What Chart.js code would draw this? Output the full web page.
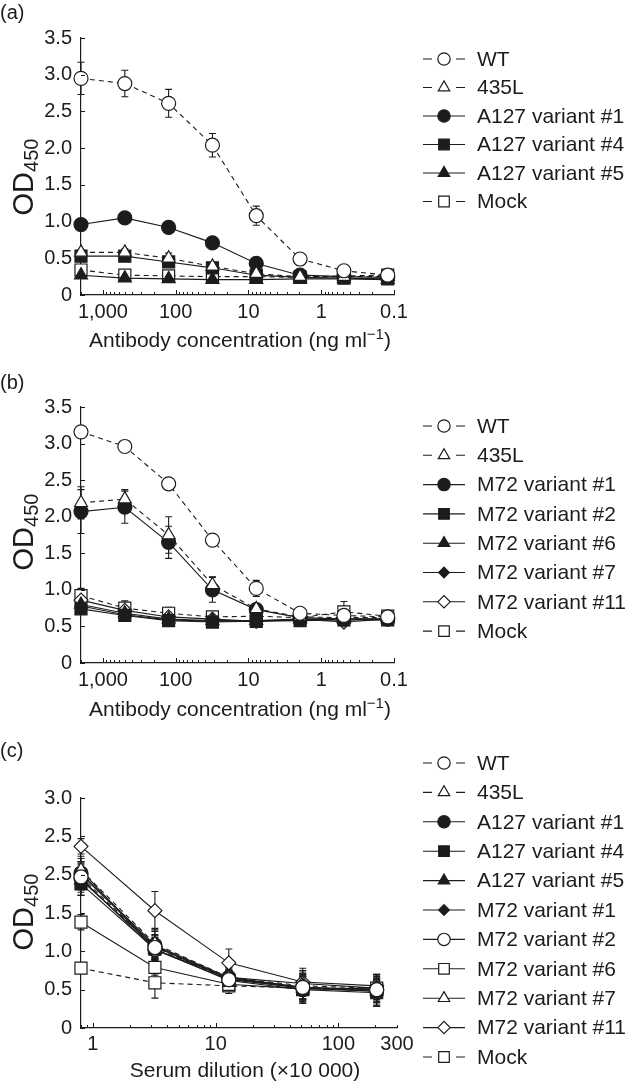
<!DOCTYPE html>
<html><head><meta charset="utf-8">
<script src="https://cdn.jsdelivr.net/npm/chart.js@4/dist/chart.umd.min.js"></script>
<style>
html,body{margin:0;padding:0;background:#fff;width:630px;height:1081px;overflow:hidden}
.p{position:absolute;left:0;width:630px}
canvas{display:block}
</style></head><body>
<div class="p" style="top:0;height:365px"><canvas id="ca" width="630" height="365"></canvas></div>
<div class="p" style="top:345px;height:382px"><canvas id="cb" width="630" height="382"></canvas></div>
<div class="p" style="top:720px;height:361px"><canvas id="cc" width="630" height="361"></canvas></div>
<script>
// ---------------- DATA ----------------
// x values (antibody concentration, ng/ml; serum dilution x10 000)
const concAB = [2000, 500, 125, 31.25, 7.8125, 1.953, 0.488, 0.122];
const dilC = [0.8, 3.2, 12.8, 51.2, 204.8];

// axis ticks
const abXTicks = [1000, 100, 10, 1, 0.1];
const abXTickLabels = ['1,000', '100', '10', '1', '0.1'];
const cXTicks = [1, 10, 100, 300];
const cXTickLabels = ['1', '10', '100', '300'];
const abYTicks = [0, 0.5, 1, 1.5, 2, 2.5, 3, 3.5];
const abYTickLabels = ['0', '0.5', '1.0', '1.5', '2.0', '2.5', '3.0', '3.5'];
const cYTicks = [0, 0.5, 1, 1.5, 2, 2.5, 3];
const cYTickLabels = ['0', '0.5', '1.0', '1.5', '2.5', '2.5', '3.0'];

// titles
const abXTitle = ['Antibody concentration (ng ml', '\u22121', ')'];
const cXTitle = ['Serum dilution (\u00d710 000)', '', ''];
const yTitle = ['OD', '450'];
const panelNames = ['(a)', '(b)', '(c)'];

// Panel (a)
const aLabels = ['WT', '435L', 'A127 variant #1', 'A127 variant #4', 'A127 variant #5', 'Mock'];
const aWT      = [2.95, 2.88, 2.61, 2.04, 1.08, 0.49, 0.33, 0.27];
const aWTErr   = [0.22, 0.18, 0.19, 0.16, 0.13, 0.06, 0.03, 0.02];
const a435L    = [0.58, 0.58, 0.50, 0.39, 0.29, 0.25, 0.25, 0.25];
const a435LErr = [0.04, 0.05, 0.07, 0.04, 0.02, 0.02, 0.02, 0.02];
const aA1      = [0.96, 1.05, 0.92, 0.71, 0.43, 0.27, 0.25, 0.24];
const aA1Err   = [0.04, 0.03, 0.05, 0.03, 0.03, 0.02, 0.02, 0.02];
const aA4      = [0.53, 0.53, 0.45, 0.37, 0.27, 0.24, 0.23, 0.22];
const aA4Err   = [0.03, 0.03, 0.03, 0.03, 0.02, 0.02, 0.02, 0.02];
const aA5      = [0.27, 0.23, 0.22, 0.21, 0.21, 0.22, 0.22, 0.21];
const aA5Err   = [0.02, 0.02, 0.02, 0.02, 0.02, 0.02, 0.02, 0.02];
const aMock    = [0.34, 0.27, 0.26, 0.25, 0.25, 0.24, 0.26, 0.27];
const aMockErr = [0.03, 0.02, 0.02, 0.02, 0.02, 0.02, 0.02, 0.02];

// Panel (b)
const bLabels = ['WT', '435L', 'M72 variant #1', 'M72 variant #2', 'M72 variant #6', 'M72 variant #7', 'M72 variant #11', 'Mock'];
const bWT      = [3.16, 2.96, 2.45, 1.68, 1.02, 0.68, 0.65, 0.63];
const bWTErr   = [0.03, 0.08, 0.04, 0.07, 0.11, 0.03, 0.02, 0.02];
const b435L    = [2.19, 2.24, 1.75, 1.07, 0.74, 0.63, 0.62, 0.62];
const b435LErr = [0.22, 0.13, 0.25, 0.11, 0.04, 0.02, 0.02, 0.02];
const bM1      = [2.07, 2.13, 1.65, 1.00, 0.73, 0.62, 0.60, 0.60];
const bM1Err   = [0.30, 0.22, 0.22, 0.17, 0.03, 0.02, 0.02, 0.02];
const bM2      = [0.74, 0.65, 0.58, 0.56, 0.57, 0.58, 0.59, 0.59];
const bM2Err   = [0.03, 0.02, 0.02, 0.02, 0.02, 0.02, 0.02, 0.02];
const bM6      = [0.80, 0.68, 0.60, 0.58, 0.58, 0.60, 0.60, 0.60];
const bM6Err   = [0.04, 0.02, 0.02, 0.02, 0.02, 0.02, 0.02, 0.02];
const bM7      = [0.78, 0.66, 0.59, 0.57, 0.57, 0.59, 0.60, 0.60];
const bM7Err   = [0.03, 0.02, 0.02, 0.02, 0.02, 0.02, 0.02, 0.02];
const bM11     = [0.86, 0.72, 0.63, 0.60, 0.57, 0.60, 0.56, 0.60];
const bM11Err  = [0.05, 0.04, 0.03, 0.02, 0.02, 0.02, 0.02, 0.02];
const bMock    = [0.92, 0.75, 0.68, 0.63, 0.64, 0.62, 0.70, 0.64];
const bMockErr = [0.10, 0.10, 0.08, 0.04, 0.04, 0.02, 0.14, 0.03];

// Panel (c)
const cLabels = ['WT', '435L', 'A127 variant #1', 'A127 variant #4', 'A127 variant #5', 'M72 variant #1', 'M72 variant #2', 'M72 variant #6', 'M72 variant #7', 'M72 variant #11', 'Mock'];
const cWT      = [1.97, 1.05, 0.63, 0.53, 0.50];
const cWTErr   = [0.20, 0.15, 0.12, 0.18, 0.20];
const c435L    = [2.06, 1.10, 0.66, 0.55, 0.52];
const c435LErr = [0.18, 0.20, 0.10, 0.20, 0.18];
const cA1      = [2.02, 1.08, 0.66, 0.53, 0.49];
const cA1Err   = [0.15, 0.18, 0.12, 0.20, 0.20];
const cA4      = [1.88, 1.03, 0.62, 0.50, 0.46];
const cA4Err   = [0.15, 0.15, 0.12, 0.18, 0.18];
const cA5      = [1.93, 1.06, 0.64, 0.52, 0.48];
const cA5Err   = [0.20, 0.15, 0.15, 0.15, 0.15];
const cM1      = [2.00, 1.07, 0.65, 0.52, 0.48];
const cM1Err   = [0.15, 0.15, 0.10, 0.15, 0.15];
const cM2      = [1.95, 1.02, 0.63, 0.53, 0.50];
const cM2Err   = [0.15, 0.12, 0.10, 0.15, 0.15];
const cM6      = [1.38, 0.79, 0.57, 0.51, 0.52];
const cM6Err   = [0.10, 0.10, 0.08, 0.10, 0.10];
const cM7      = [2.06, 1.02, 0.66, 0.58, 0.52];
const cM7Err   = [0.15, 0.15, 0.10, 0.20, 0.15];
const cM11     = [2.37, 1.53, 0.85, 0.60, 0.55];
const cM11Err  = [0.10, 0.25, 0.18, 0.10, 0.10];
const cMock    = [0.78, 0.59, 0.55, 0.52, 0.50];
const cMockErr = [0.05, 0.20, 0.10, 0.10, 0.10];

// ---------------- STYLES ----------------
const INK = '#1c1c1c';
const FONT = '"Liberation Sans", Arial, sans-serif';
const S = {
  oCircD: {m: 'circle', r: 7, f: false, d: true},
  oTriD:  {m: 'triangle', r: 7.5, f: false, d: true},
  fCirc:  {m: 'circle', r: 7, f: true, d: false},
  fRect:  {m: 'rect', r: 8.5, f: true, d: false},
  fTri:   {m: 'triangle', r: 7.5, f: true, d: false},
  fDia:   {m: 'rectRot', r: 6, f: true, d: false},
  oCirc:  {m: 'circle', r: 7, f: false, d: false},
  oRect:  {m: 'rect', r: 8.5, f: false, d: false},
  oTri:   {m: 'triangle', r: 7.5, f: false, d: false},
  oDia:   {m: 'rectRot', r: 7, f: false, d: false},
  oRectD: {m: 'rect', r: 8.5, f: false, d: true}
};

function makeDatasets(xs, labels, series, errs, styles) {
  return labels.map((lab, i) => {
    const st = styles[i];
    return {
      label: lab,
      data: xs.map((x, j) => ({x: x, y: series[i][j]})),
      errors: errs[i],
      legendStyle: st,
      borderColor: INK,
      borderWidth: 1.1,
      borderDash: st.d ? [5, 4] : [],
      pointStyle: st.m,
      pointRadius: st.r,
      pointHoverRadius: st.r,
      pointBorderColor: INK,
      pointBorderWidth: 1.2,
      pointBackgroundColor: st.f ? INK : '#ffffff',
      clip: false,
      tension: 0,
      fill: false
    };
  });
}

function markerPath(ctx, st, x, y, r) {
  ctx.beginPath();
  if (st.m === 'circle') {
    ctx.arc(x, y, r, 0, Math.PI * 2);
  } else if (st.m === 'rect') {
    const s = Math.SQRT1_2 * r;
    ctx.rect(x - s, y - s, 2 * s, 2 * s);
  } else if (st.m === 'triangle') {
    let a = 0;
    ctx.moveTo(x + Math.sin(a) * r, y - Math.cos(a) * r);
    a += 2 * Math.PI / 3;
    ctx.lineTo(x + Math.sin(a) * r, y - Math.cos(a) * r);
    a += 2 * Math.PI / 3;
    ctx.lineTo(x + Math.sin(a) * r, y - Math.cos(a) * r);
    ctx.closePath();
  } else if (st.m === 'rectRot') {
    ctx.moveTo(x - r, y); ctx.lineTo(x, y - r); ctx.lineTo(x + r, y); ctx.lineTo(x, y + r);
    ctx.closePath();
  }
}

function makeDecor(cfg) {
  return {
    id: 'decor',
    beforeDatasetsDraw(chart) {
      const ctx = chart.ctx, xs = chart.scales.x, ys = chart.scales.y;
      ctx.save();
      ctx.strokeStyle = INK; ctx.lineWidth = 1.1; ctx.setLineDash([]);
      chart.data.datasets.forEach(ds => {
        ds.data.forEach((p, j) => {
          const e = ds.errors[j];
          if (!e) return;
          const px = xs.getPixelForValue(p.x);
          const y1 = ys.getPixelForValue(p.y + e);
          const y2 = ys.getPixelForValue(Math.max(p.y - e, 0));
          ctx.beginPath();
          ctx.moveTo(px, y1); ctx.lineTo(px, y2);
          ctx.moveTo(px - 3.5, y1); ctx.lineTo(px + 3.5, y1);
          ctx.moveTo(px - 3.5, y2); ctx.lineTo(px + 3.5, y2);
          ctx.stroke();
        });
      });
      ctx.restore();
    },
    afterDraw(chart) {
      const ctx = chart.ctx, xs = chart.scales.x, ys = chart.scales.y;
      const area = chart.chartArea;
      ctx.save();
      ctx.strokeStyle = INK; ctx.lineWidth = 1; ctx.setLineDash([]);
      // inward x ticks (major + minor), from the log scale
      const lo = Math.min(xs.min, xs.max), hi = Math.max(xs.min, xs.max);
      ctx.beginPath();
      for (let n = -2; n <= 3; n++) {
        for (let k = 1; k <= 9; k++) {
          const v = k * Math.pow(10, n);
          if (v < lo * 0.999 || v > hi * 1.001) continue;
          const px = Math.round(xs.getPixelForValue(v)) + 0.5;
          const len = k === 1 ? 5 : 3;
          ctx.moveTo(px, area.bottom); ctx.lineTo(px, area.bottom - len);
        }
      }
      // inward y ticks
      cfg.yTicks.forEach(v => {
        const py = Math.round(ys.getPixelForValue(v)) + 0.5;
        ctx.moveTo(area.left, py); ctx.lineTo(area.left + 4, py);
      });
      ctx.stroke();

      ctx.fillStyle = INK;
      // x title with optional superscript
      const parts = cfg.xTitle;
      ctx.textBaseline = 'alphabetic';
      ctx.font = '21px ' + FONT;
      const w0 = ctx.measureText(parts[0]).width;
      const w2 = ctx.measureText(parts[2]).width;
      ctx.font = '15px ' + FONT;
      const w1 = ctx.measureText(parts[1]).width;
      let sx = cfg.xTitleX - (w0 + w1 + w2) / 2;
      const by = cfg.xTitleY + 7.5;
      ctx.textAlign = 'left';
      ctx.font = '21px ' + FONT;
      ctx.fillText(parts[0], sx, by);
      ctx.font = '15px ' + FONT;
      ctx.fillText(parts[1], sx + w0, by - 8);
      ctx.font = '21px ' + FONT;
      ctx.fillText(parts[2], sx + w0 + w1, by);

      // y title OD450 rotated
      ctx.save();
      ctx.translate(cfg.yTitleX, cfg.yTitleY);
      ctx.rotate(-Math.PI / 2);
      ctx.font = '29px ' + FONT;
      const wOD = ctx.measureText(yTitle[0]).width;
      ctx.font = '20px ' + FONT;
      const wSub = ctx.measureText(yTitle[1]).width;
      const start = -(wOD + wSub) / 2;
      ctx.font = '29px ' + FONT;
      ctx.fillText(yTitle[0], start, 0);
      ctx.font = '20px ' + FONT;
      ctx.fillText(yTitle[1], start + wOD, 5);
      ctx.restore();

      // panel label
      ctx.font = '20px ' + FONT;
      ctx.textBaseline = 'middle';
      ctx.textAlign = 'left';
      ctx.fillText(cfg.panel, 0, cfg.panelY);

      // legend
      chart.data.datasets.forEach((ds, i) => {
        const st = ds.legendStyle;
        const y = cfg.legY + i * cfg.legStep;
        ctx.strokeStyle = INK; ctx.lineWidth = 1.1; ctx.setLineDash([]);
        ctx.beginPath();
        if (st.d) {
          ctx.moveTo(423, y); ctx.lineTo(432, y);
          ctx.moveTo(456, y); ctx.lineTo(465, y);
        } else {
          ctx.moveTo(423, y); ctx.lineTo(465, y);
        }
        ctx.stroke();
        markerPath(ctx, st, 444, y, st.r * 0.88);
        ctx.fillStyle = st.f ? INK : '#fff';
        ctx.fill();
        ctx.lineWidth = 1.2;
        ctx.stroke();
        ctx.fillStyle = INK;
        ctx.font = '21px ' + FONT;
        ctx.textBaseline = 'middle';
        ctx.fillText(ds.label, 477, y + 1);
      });
      ctx.restore();
    }
  };
}

function build(canvasId, cfg) {
  const H = cfg.H;
  new Chart(document.getElementById(canvasId), {
    type: 'line',
    data: {datasets: cfg.datasets},
    options: {
      responsive: false,
      animation: false,
      events: [],
      layout: {padding: {left: 0, top: cfg.T, right: 630 - cfg.R, bottom: 0}},
      plugins: {legend: {display: false}, tooltip: {enabled: false}, title: {display: false}},
      scales: {
        x: {
          type: 'logarithmic',
          reverse: cfg.reverse,
          min: cfg.xMin, max: cfg.xMax,
          afterBuildTicks: s => { s.ticks = cfg.xTicks.map(v => ({value: v})); },
          afterFit: s => { s.height = H - cfg.B; },
          grid: {display: false, drawTicks: false},
          border: {display: true, color: INK, width: 1.2},
          ticks: {
            autoSkip: false, maxRotation: 0, padding: cfg.xPad,
            color: INK, font: {family: FONT, size: 20},
            callback: (v, i) => cfg.xTickLabels[i]
          }
        },
        y: {
          type: 'linear',
          min: 0, max: cfg.yMax,
          afterBuildTicks: s => { s.ticks = cfg.yTicks.map(v => ({value: v})); },
          afterFit: s => { s.width = 81; },
          grid: {display: false, drawTicks: false},
          border: {display: true, color: INK, width: 1.2},
          ticks: {
            padding: 9, color: INK, font: {family: FONT, size: 20},
            callback: (v, i) => cfg.yTickLabels[i]
          }
        }
      }
    },
    plugins: [makeDecor(cfg)]
  });
}

build('ca', {
  H: 365, T: 38, B: 295, R: 394, reverse: true, xMin: 0.1, xMax: 2000, xPad: 5,
  xTicks: abXTicks, xTickLabels: abXTickLabels, yTicks: abYTicks, yTickLabels: abYTickLabels, yMax: 3.5,
  xTitle: abXTitle, xTitleX: 240, xTitleY: 339, yTitleX: 33, yTitleY: 177,
  panel: panelNames[0], panelY: 13, legY: 59, legStep: 28.5,
  datasets: makeDatasets(concAB, aLabels,
    [aWT, a435L, aA1, aA4, aA5, aMock],
    [aWTErr, a435LErr, aA1Err, aA4Err, aA5Err, aMockErr],
    [S.oCircD, S.oTriD, S.fCirc, S.fRect, S.fTri, S.oRectD])
});

build('cb', {
  H: 382, T: 62, B: 318, R: 394, reverse: true, xMin: 0.1, xMax: 2000, xPad: 5,
  xTicks: abXTicks, xTickLabels: abXTickLabels, yTicks: abYTicks, yTickLabels: abYTickLabels, yMax: 3.5,
  xTitle: abXTitle, xTitleX: 240, xTitleY: 363, yTitleX: 33, yTitleY: 187,
  panel: panelNames[1], panelY: 38, legY: 81, legStep: 29.3,
  datasets: makeDatasets(concAB, bLabels,
    [bWT, b435L, bM1, bM2, bM6, bM7, bM11, bMock],
    [bWTErr, b435LErr, bM1Err, bM2Err, bM6Err, bM7Err, bM11Err, bMockErr],
    [S.oCircD, S.oTriD, S.fCirc, S.fRect, S.fTri, S.fDia, S.oDia, S.oRectD])
});

build('cc', {
  H: 361, T: 78, B: 308, R: 397, reverse: false, xMin: 0.8, xMax: 300, xPad: 4,
  xTicks: cXTicks, xTickLabels: cXTickLabels, yTicks: cYTicks, yTickLabels: cYTickLabels, yMax: 3.0,
  xTitle: cXTitle, xTitleX: 245, xTitleY: 349, yTitleX: 33, yTitleY: 192,
  panel: panelNames[2], panelY: 31, legY: 43, legStep: 29.4,
  datasets: makeDatasets(dilC, cLabels,
    [cWT, c435L, cA1, cA4, cA5, cM1, cM2, cM6, cM7, cM11, cMock],
    [cWTErr, c435LErr, cA1Err, cA4Err, cA5Err, cM1Err, cM2Err, cM6Err, cM7Err, cM11Err, cMockErr],
    [S.oCircD, S.oTriD, S.fCirc, S.fRect, S.fTri, S.fDia, S.oCirc, S.oRect, S.oTri, S.oDia, S.oRectD])
});
</script>
</body></html>
